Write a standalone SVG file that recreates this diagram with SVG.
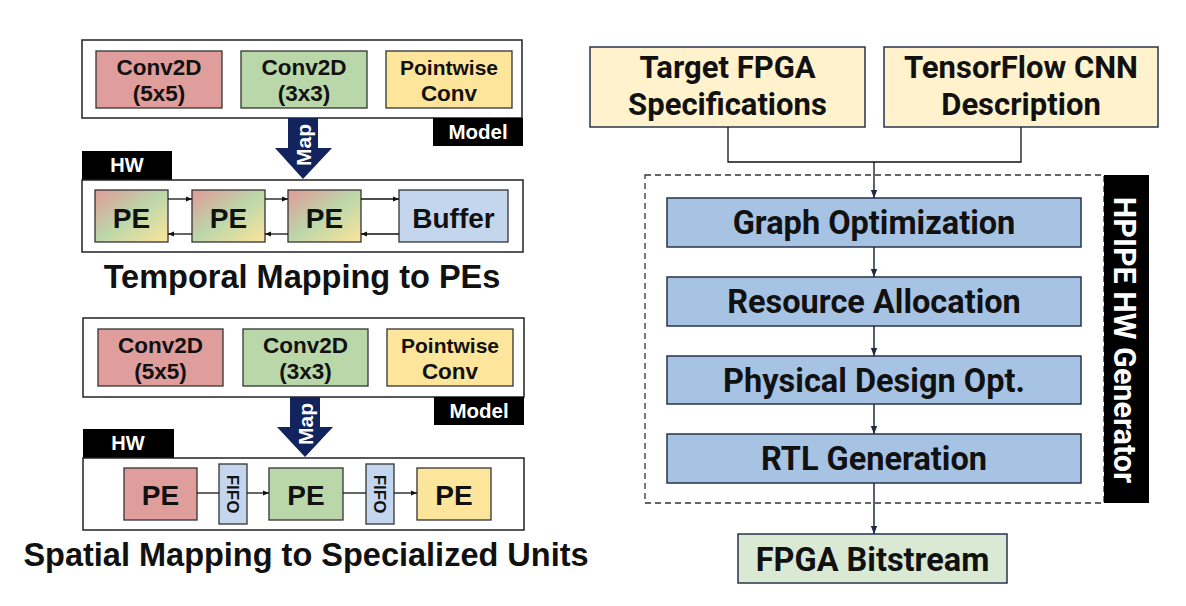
<svg xmlns="http://www.w3.org/2000/svg" width="1186" height="606" viewBox="0 0 1186 606">
<style>
.frame{fill:#fff;stroke:#222;stroke-width:1.5}
.lbl{fill:#000}
.ltxt{font-family:"Liberation Sans",Arial,sans-serif;font-weight:bold;fill:#111;text-anchor:middle}
.wtxt{font-family:"Liberation Sans",Arial,sans-serif;font-weight:bold;fill:#fff;text-anchor:middle}
.rtxt{font-family:Roboto,"Liberation Sans",sans-serif;font-weight:bold;fill:#111;text-anchor:middle}
.box{stroke:#333;stroke-width:1.3}
.rbox{stroke:#27334d;stroke-width:1.5}
.red{fill:#df9e9c}.green{fill:#b9d7a9}.yellow{fill:#fde59c}.blue{fill:#c3d6ee}
.conn{fill:none;stroke:#111;stroke-width:1.3}
.rconn{fill:none;stroke:#1e2a44;stroke-width:1.5}
.map{fill:#12235e}
</style>
<defs>
<linearGradient id="peg" x1="0" y1="0" x2="1" y2="1">
<stop offset="0" stop-color="#de9b99"/>
<stop offset="0.5" stop-color="#bcd7aa"/>
<stop offset="1" stop-color="#fde49b"/>
</linearGradient>
<marker id="ah" viewBox="0 0 10 10" refX="10" refY="5" markerWidth="6" markerHeight="6" orient="auto-start-reverse" markerUnits="userSpaceOnUse">
<path d="M0,1 L10,5 L0,9 z" fill="#111"/>
</marker>
<marker id="rah" viewBox="0 0 10 10" refX="10" refY="5" markerWidth="8" markerHeight="8" orient="auto" markerUnits="userSpaceOnUse">
<path d="M0,1 L10,5 L0,9 z" fill="#1e2a44"/>
</marker>
</defs>

<!-- Temporal mapping -->
<g id="temporal-model">
<rect class="frame" x="82" y="40" width="440" height="78"/>
<rect class="lbl" x="433" y="118" width="90" height="28"/>
<text class="wtxt" x="478" y="139" font-size="20.5">Model</text>
</g>
<g id="t-conv5">
<rect class="box red" x="96" y="51" width="126" height="57"/>
<text class="ltxt" x="159" y="75" font-size="22.5">Conv2D</text>
<text class="ltxt" x="159" y="101" font-size="22.5">(5x5)</text>
</g>
<g id="t-conv3">
<rect class="box green" x="241" y="51" width="126" height="57"/>
<text class="ltxt" x="304" y="75" font-size="22.5">Conv2D</text>
<text class="ltxt" x="304" y="101" font-size="22.5">(3x3)</text>
</g>
<g id="t-pw">
<rect class="box yellow" x="386" y="51" width="126" height="57"/>
<text class="ltxt" x="449" y="75" font-size="21">Pointwise</text>
<text class="ltxt" x="449" y="101" font-size="22.5">Conv</text>
</g>
<g id="t-map">
<polygon class="map" points="288,118 318,118 318,148 332,148 303,179 275,148 288,148"/>
<text class="wtxt" font-size="21" transform="translate(310.5,145) rotate(-90)">Map</text>
</g>
<g id="temporal-hw">
<rect class="lbl" x="82" y="151" width="90" height="29"/>
<text class="wtxt" x="127" y="172" font-size="20">HW</text>
<rect class="frame" x="82" y="180" width="441" height="72"/>
</g>
<g id="t-pe1">
<rect class="box" fill="url(#peg)" x="95" y="190" width="73" height="52"/>
<text class="ltxt" x="131.5" y="228" font-size="28">PE</text>
</g>
<g id="t-pe2">
<rect class="box" fill="url(#peg)" x="192" y="190" width="73" height="52"/>
<text class="ltxt" x="228.5" y="228" font-size="28">PE</text>
</g>
<g id="t-pe3">
<rect class="box" fill="url(#peg)" x="288" y="190" width="73" height="52"/>
<text class="ltxt" x="324.5" y="228" font-size="28">PE</text>
</g>
<g id="t-buffer">
<rect class="box blue" x="399" y="190" width="109" height="52"/>
<text class="ltxt" x="453.5" y="228" font-size="28">Buffer</text>
</g>
<text id="title-temporal" class="ltxt" x="302" y="288" font-size="32.5">Temporal Mapping to PEs</text>

<!-- Spatial mapping -->
<g id="spatial-model">
<rect class="frame" x="83" y="318" width="441" height="79"/>
<rect class="lbl" x="434" y="397" width="90" height="28"/>
<text class="wtxt" x="479" y="418" font-size="20.5">Model</text>
</g>
<g id="s-conv5">
<rect class="box red" x="98" y="329" width="125" height="57"/>
<text class="ltxt" x="160.5" y="353" font-size="22.5">Conv2D</text>
<text class="ltxt" x="160.5" y="379" font-size="22.5">(5x5)</text>
</g>
<g id="s-conv3">
<rect class="box green" x="243" y="329" width="125" height="57"/>
<text class="ltxt" x="305.5" y="353" font-size="22.5">Conv2D</text>
<text class="ltxt" x="305.5" y="379" font-size="22.5">(3x3)</text>
</g>
<g id="s-pw">
<rect class="box yellow" x="387" y="329" width="126" height="57"/>
<text class="ltxt" x="450" y="353" font-size="21">Pointwise</text>
<text class="ltxt" x="450" y="379" font-size="22.5">Conv</text>
</g>
<g id="s-map">
<polygon class="map" points="290,397 320,397 320,427 333,427 305,457 277,427 290,427"/>
<text class="wtxt" font-size="21" transform="translate(312.5,424) rotate(-90)">Map</text>
</g>
<g id="spatial-hw">
<rect class="lbl" x="83" y="429" width="91" height="29"/>
<text class="wtxt" x="128" y="450" font-size="20">HW</text>
<rect class="frame" x="83" y="458" width="441" height="72"/>
</g>
<g id="s-pe1">
<rect class="box red" x="124" y="468" width="73" height="52"/>
<text class="ltxt" x="160.5" y="505" font-size="28">PE</text>
</g>
<g id="s-fifo1">
<rect class="box blue" x="219" y="464" width="28" height="60"/>
<text class="ltxt" font-size="17" transform="translate(227,494) rotate(90)">FIFO</text>
</g>
<g id="s-pe2">
<rect class="box green" x="269" y="468" width="74" height="52"/>
<text class="ltxt" x="306" y="505" font-size="28">PE</text>
</g>
<g id="s-fifo2">
<rect class="box blue" x="366" y="464" width="28" height="60"/>
<text class="ltxt" font-size="17" transform="translate(374,494) rotate(90)">FIFO</text>
</g>
<g id="s-pe3">
<rect class="box yellow" x="417" y="468" width="74" height="52"/>
<text class="ltxt" x="454" y="505" font-size="28">PE</text>
</g>
<text id="title-spatial" class="ltxt" x="306" y="566" font-size="32.5">Spatial Mapping to Specialized Units</text>

<!-- Right flow -->
<g id="target-fpga">
<rect class="rbox" fill="#fff2cc" x="590" y="47" width="275" height="80"/>
<text class="rtxt" x="727.5" y="78" font-size="31">Target FPGA</text>
<text class="rtxt" x="727.5" y="114.5" font-size="31">Specifications</text>
</g>
<g id="tf-cnn">
<rect class="rbox" fill="#fff2cc" x="884" y="47" width="274" height="80"/>
<text class="rtxt" x="1021" y="78" font-size="31">TensorFlow CNN</text>
<text class="rtxt" x="1021" y="114.5" font-size="31">Description</text>
</g>
<g id="hpipe-generator">
<rect x="645" y="175" width="459" height="328" fill="none" stroke="#333" stroke-width="1.3" stroke-dasharray="6,4"/>
<rect class="lbl" x="1104" y="175" width="45" height="328"/>
<text class="rtxt" font-size="30.5" style="fill:#fff" transform="translate(1114,340) rotate(90)">HPIPE HW Generator</text>
</g>
<g id="graph-opt">
<rect class="rbox" fill="#a7c3e3" x="667" y="198" width="414" height="49"/>
<text class="rtxt" x="874" y="234" font-size="32.5">Graph Optimization</text>
</g>
<g id="resource-alloc">
<rect class="rbox" fill="#a7c3e3" x="667" y="277" width="414" height="49"/>
<text class="rtxt" x="874" y="313" font-size="32.5">Resource Allocation</text>
</g>
<g id="physical-opt">
<rect class="rbox" fill="#a7c3e3" x="667" y="356" width="414" height="48"/>
<text class="rtxt" x="874" y="392" font-size="32.5">Physical Design Opt.</text>
</g>
<g id="rtl-gen">
<rect class="rbox" fill="#a7c3e3" x="667" y="434" width="414" height="49"/>
<text class="rtxt" x="874" y="470" font-size="32.5">RTL Generation</text>
</g>
<g id="fpga-bitstream">
<rect class="rbox" fill="#dae9d4" x="738" y="534" width="269" height="49"/>
<text class="rtxt" x="872.5" y="571" font-size="32.5">FPGA Bitstream</text>
</g>

<g id="connectors">
<line class="conn" x1="168" y1="199" x2="192" y2="199" marker-end="url(#ah)"/>
<line class="conn" x1="192" y1="234" x2="168" y2="234" marker-end="url(#ah)"/>
<line class="conn" x1="265" y1="199" x2="288" y2="199" marker-end="url(#ah)"/>
<line class="conn" x1="288" y1="234" x2="265" y2="234" marker-end="url(#ah)"/>
<line class="conn" x1="361" y1="199" x2="399" y2="199" marker-end="url(#ah)"/>
<line class="conn" x1="399" y1="234" x2="361" y2="234" marker-end="url(#ah)"/>
<line class="conn" x1="197" y1="493" x2="219" y2="493"/>
<line class="conn" x1="247" y1="493" x2="269" y2="493" marker-end="url(#ah)"/>
<line class="conn" x1="343" y1="493" x2="366" y2="493"/>
<line class="conn" x1="394" y1="493" x2="417" y2="493" marker-end="url(#ah)"/>
<polyline class="conn" points="728,127 728,162 1021,162 1021,127"/>
<line class="conn" x1="874" y1="162" x2="874" y2="198" marker-end="url(#rah)"/>
<line class="rconn" x1="874" y1="247" x2="874" y2="277" marker-end="url(#rah)"/>
<line class="rconn" x1="874" y1="326" x2="874" y2="356" marker-end="url(#rah)"/>
<line class="rconn" x1="874" y1="404" x2="874" y2="434" marker-end="url(#rah)"/>
<line class="rconn" x1="874" y1="483" x2="874" y2="534" marker-end="url(#rah)"/>
</g>
</svg>
